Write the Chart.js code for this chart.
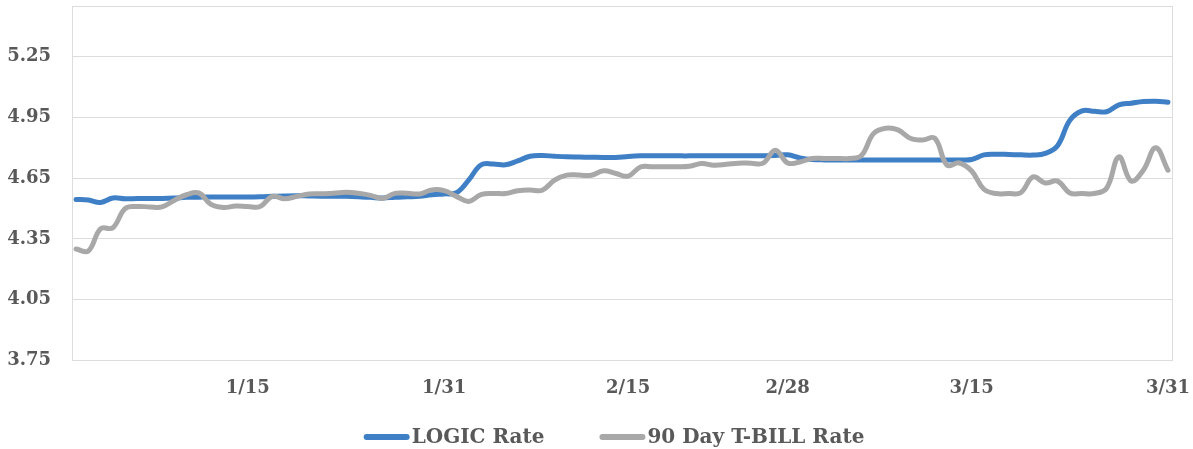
<!DOCTYPE html>
<html>
<head>
<meta charset="utf-8">
<title>LOGIC Rate vs 90 Day T-BILL Rate</title>
<script src="https://cdn.jsdelivr.net/npm/chart.js@4/dist/chart.umd.min.js"></script>
<style>
  html, body { margin: 0; padding: 0; background: #ffffff; }
  #wrap { position: relative; width: 1193px; height: 449px; }
</style>
</head>
<body>
<div id="wrap"><canvas id="rates"></canvas></div>
<script>
// Calendar days of the quarter, January 1 through March 31
const monthLengths = [31, 28, 31];
const days = [];
monthLengths.forEach((len, m) => {
  for (let d = 1; d <= len; d++) days.push((m + 1) + '/' + d);
});

// Daily rates (%), one value per calendar day
const logicRate = [
  4.545, 4.542, 4.530, 4.552, 4.548, 4.549, 4.549, 4.550, 4.552, 4.555,
  4.556, 4.557, 4.557, 4.557, 4.557, 4.558, 4.560, 4.562, 4.563, 4.562,
  4.561, 4.561, 4.560, 4.558, 4.555, 4.552, 4.556, 4.558, 4.560, 4.568,
  4.572, 4.578, 4.640, 4.715, 4.720, 4.716, 4.735, 4.758, 4.762, 4.758,
  4.755, 4.754, 4.753, 4.752, 4.752, 4.757, 4.760, 4.760, 4.760, 4.760,
  4.760, 4.761, 4.761, 4.761, 4.761, 4.761, 4.761, 4.762, 4.765, 4.750,
  4.742, 4.740, 4.740, 4.740, 4.740, 4.740, 4.740, 4.740, 4.740, 4.740,
  4.740, 4.740, 4.740, 4.742, 4.765, 4.768, 4.767, 4.765, 4.764, 4.772,
  4.810, 4.935, 4.982, 4.980, 4.978, 5.012, 5.020, 5.028, 5.030, 5.025
];

const tBillRate = [
  4.300, 4.290, 4.400, 4.405, 4.500, 4.510, 4.508, 4.508, 4.540, 4.568,
  4.577, 4.520, 4.505, 4.512, 4.510, 4.510, 4.560, 4.548, 4.560, 4.572,
  4.573, 4.575, 4.580, 4.575, 4.565, 4.550, 4.575, 4.575, 4.572, 4.592,
  4.588, 4.560, 4.535, 4.568, 4.574, 4.574, 4.588, 4.592, 4.590, 4.640,
  4.665, 4.665, 4.664, 4.686, 4.673, 4.660, 4.705, 4.706, 4.706, 4.706,
  4.709, 4.722, 4.714, 4.718, 4.724, 4.724, 4.724, 4.788, 4.725, 4.730,
  4.747, 4.747, 4.747, 4.747, 4.760, 4.870, 4.896, 4.888, 4.847, 4.838,
  4.847, 4.714, 4.725, 4.685, 4.595, 4.574, 4.574, 4.578, 4.656, 4.626,
  4.635, 4.577, 4.574, 4.574, 4.600, 4.755, 4.636, 4.690, 4.800, 4.689
];

// Axis tick labels
const dateTicks = ['1/15', '1/31', '2/15', '2/28', '3/15', '3/31'];
const rateTicks = [3.75, 4.05, 4.35, 4.65, 4.95, 5.25];

const tickDays = dateTicks.map(t => days.indexOf(t));
const toPoints = arr => arr.map((v, i) => ({ x: i, y: v }));

const FONT = "'DejaVu Serif', 'Liberation Serif', serif";
const INK = '#595959';

// Light frame around the plotting area
const plotFrame = {
  id: 'plotFrame',
  beforeDatasetsDraw(chart) {
    const { ctx, chartArea: a } = chart;
    ctx.save();
    ctx.strokeStyle = '#dcdcdc';
    ctx.lineWidth = 1;
    ctx.strokeRect(Math.round(a.left) + 0.5, Math.round(a.top) + 0.5,
      Math.round(a.right - a.left), Math.round(a.bottom - a.top));
    ctx.restore();
  }
};

// Series key below the axis: a line swatch followed by the series name
const seriesKey = {
  id: 'seriesKey',
  afterDraw(chart, args, opts) {
    const ctx = chart.ctx;
    ctx.save();
    ctx.font = 'bold ' + opts.fontSize + 'px ' + FONT;
    const items = chart.data.datasets.map(ds => ({
      label: ds.label,
      color: ds.borderColor,
      w: ctx.measureText(ds.label).width
    }));
    const total = items.reduce((s, it) => s + opts.swatch + opts.textGap + it.w, 0)
      + opts.itemGap * (items.length - 1);
    let x = opts.centerX - total / 2;
    const y = opts.y;
    ctx.textBaseline = 'middle';
    ctx.textAlign = 'left';
    items.forEach(it => {
      ctx.strokeStyle = it.color;
      ctx.lineWidth = 6;
      ctx.lineCap = 'round';
      ctx.beginPath();
      ctx.moveTo(x + 3, y);
      ctx.lineTo(x + opts.swatch - 3, y);
      ctx.stroke();
      x += opts.swatch + opts.textGap;
      ctx.fillStyle = INK;
      ctx.fillText(it.label, x, y + 1);
      x += it.w + opts.itemGap;
    });
    ctx.restore();
  }
};

new Chart(document.getElementById('rates'), {
  type: 'line',
  data: {
    datasets: [
      {
        label: 'LOGIC Rate',
        data: toPoints(logicRate),
        borderColor: '#3f7fc6',
        backgroundColor: '#3f7fc6',
        borderWidth: 5,
        tension: 0.4,
        pointRadius: 0,
        borderCapStyle: 'round',
        borderJoinStyle: 'round',
        order: 2
      },
      {
        label: '90 Day T-BILL Rate',
        data: toPoints(tBillRate),
        borderColor: '#a8a8a8',
        backgroundColor: '#a8a8a8',
        borderWidth: 5,
        tension: 0.4,
        pointRadius: 0,
        borderCapStyle: 'round',
        borderJoinStyle: 'round',
        order: 1
      }
    ]
  },
  options: {
    responsive: true,
    maintainAspectRatio: false,
    animation: false,
    events: [],
    layout: { padding: { top: 6, right: 21, bottom: 33, left: 0 } },
    plugins: {
      legend: { display: false },
      tooltip: { enabled: false },
      seriesKey: { fontSize: 20, swatch: 46, textGap: 2, itemGap: 55, centerX: 614, y: 437 }
    },
    scales: {
      x: {
        type: 'linear',
        min: -0.33,
        max: 89.33,
        afterBuildTicks(axis) { axis.ticks = tickDays.map(v => ({ value: v })); },
        afterFit(axis) { axis.paddingLeft = 0; axis.paddingRight = 0; },
        grid: { display: false, drawTicks: false },
        border: { display: false },
        ticks: {
          autoSkip: false,
          maxRotation: 0,
          padding: 17,
          color: INK,
          font: { family: FONT, size: 18, weight: 'bold' },
          callback: v => days[v]
        }
      },
      y: {
        min: 3.75,
        max: 5.50,
        afterBuildTicks(axis) { axis.ticks = rateTicks.map(v => ({ value: v })); },
        afterFit(axis) { axis.width = 72; axis.paddingTop = 0; axis.paddingBottom = 0; },
        grid: { color: '#dcdcdc', lineWidth: 1, drawTicks: false },
        border: { display: false },
        ticks: {
          padding: 21,
          color: INK,
          font: { family: FONT, size: 18, weight: 'bold' },
          callback: v => Number(v).toFixed(2)
        }
      }
    }
  },
  plugins: [plotFrame, seriesKey]
});
</script>
</body>
</html>
